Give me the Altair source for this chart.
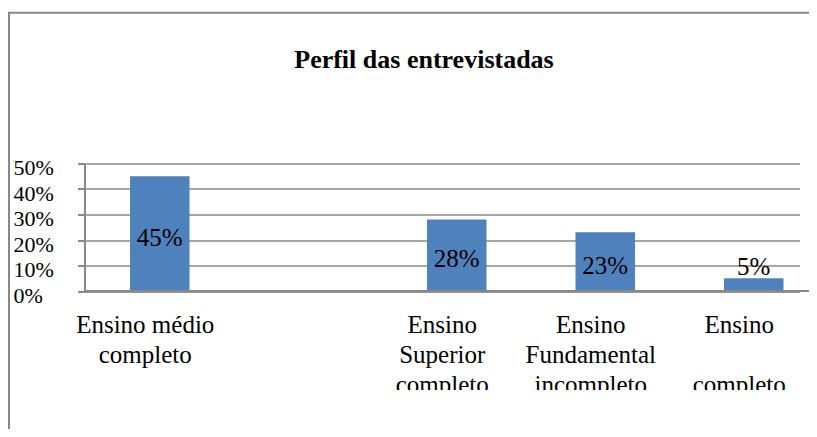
import json
import altair as alt
import pandas as pd

# ---- data -------------------------------------------------------------
title_text = "Perfil das entrevistadas"
categories = [
    "Ensino médio completo",
    " ",
    "Ensino Superior completo",
    "Ensino Fundamental incompleto",
    "Ensino completo",
]
label_lines = [
    ["Ensino médio", "completo"],
    [""],
    ["Ensino", "Superior", "completo"],
    ["Ensino", "Fundamental", "incompleto"],
    ["Ensino", "\u2800", "completo"],
]
bar_categories = [
    "Ensino médio completo",
    "Ensino Superior completo",
    "Ensino Fundamental incompleto",
    "Ensino completo",
]
values = [0.45, 0.28, 0.23, 0.05]
y_ticks = [0, 0.1, 0.2, 0.3, 0.4, 0.5]

# ---- style ------------------------------------------------------------
FONT = "Liberation Serif"
GRAY = "#888888"
BLUE = "#4F81BD"
W, H = 715, 127.5

df = pd.DataFrame({"categoria": bar_categories, "valor": values})
one = pd.DataFrame({"k": [0]})

# label expression: category -> list of lines
expr = ""
for cat, lines in zip(categories, label_lines):
    expr += f"datum.value == {json.dumps(cat, ensure_ascii=False)} ? {json.dumps(lines, ensure_ascii=False)} : "
expr += "datum.label"

x_scale = alt.Scale(domain=categories, paddingInner=0.5993, paddingOuter=0.2071,
                    align=0.74, round=False)
y_scale = alt.Scale(domain=[0, 0.5], nice=False, zero=True)

x_axis = alt.Axis(title=None, labelExpr=expr)
y_axis = alt.Axis(title=None, values=y_ticks, format=".0%", labelOverlap=False,
                  labelBound=False, labelSeparation=0)

def X():
    return alt.X("categoria:N", sort=categories, scale=x_scale, axis=x_axis)

def Y(field):
    return alt.Y(field, scale=y_scale, axis=y_axis)

base = alt.Chart(df)
bars = base.mark_bar(color=BLUE).encode(x=X(), y=Y("valor:Q"))

inside = base.transform_filter("datum.valor >= 0.1").transform_calculate(
    mid="datum.valor / 2"
).mark_text(baseline="middle", dy=4).encode(
    x=X(), y=Y("mid:Q"), text=alt.Text("valor:Q", format=".0%"),
)
outside = base.transform_filter("datum.valor < 0.1").mark_text(
    baseline="alphabetic", dy=-3
).encode(
    x=X(), y=Y("valor:Q"), text=alt.Text("valor:Q", format=".0%"),
)

axis_ext = alt.Chart(one).mark_rule(color=GRAY, strokeWidth=2).encode(
    x=alt.value(0), x2=alt.value(W + 30), y=alt.value(H)
)
mask = alt.Chart(one).mark_rect(fill="white").encode(
    x=alt.value(-74), x2=alt.value(W + 30), y=alt.value(226.5), y2=alt.value(320)
)
frame = alt.Chart(one).mark_rect(fillOpacity=0, stroke=GRAY, strokeWidth=2).encode(
    x=alt.value(-75.5), x2=alt.value(W + 30), y=alt.value(-150.8), y2=alt.value(320)
)

chart = alt.layer(bars, inside, outside, axis_ext, mask, frame).properties(
    width=W,
    height=H,
    padding={"left": 76.5, "top": 155.5, "right": 9.5, "bottom": 138},
    autosize=alt.AutoSizeParams(type="none"),
    title=alt.TitleParams(text=title_text, font=FONT, fontSize=26, fontWeight="bold",
                          color="black", anchor="middle", frame="group",
                          baseline="alphabetic", offset=-82, dx=-18),
).configure_view(
    stroke=None
).configure_text(
    font=FONT, fontSize=25, color="black"
).configure_axisX(
    labelAngle=0, ticks=False, tickSize=0, labelPadding=41,
    labelBaseline="alphabetic", labelLineHeight=30, labelFont=FONT,
    labelFontSize=25, labelColor="black", labelOffset=-14.5, labelLimit=400,
    domainColor=GRAY, domainWidth=2, grid=False,
).configure_axisY(
    tickSize=7, tickColor=GRAY, tickWidth=2, labelAlign="left",
    labelPadding=64.5, labelBaseline="alphabetic", labelOffset=11,
    labelFont=FONT, labelFontSize=22, labelColor="black", labelOverlap=False,
    labelFlush=False, domainColor=GRAY, domainWidth=2, grid=True,
    gridColor=GRAY, gridWidth=1.5,
)

chart.save("out.html", embed_options={"renderer": "svg", "actions": False})
